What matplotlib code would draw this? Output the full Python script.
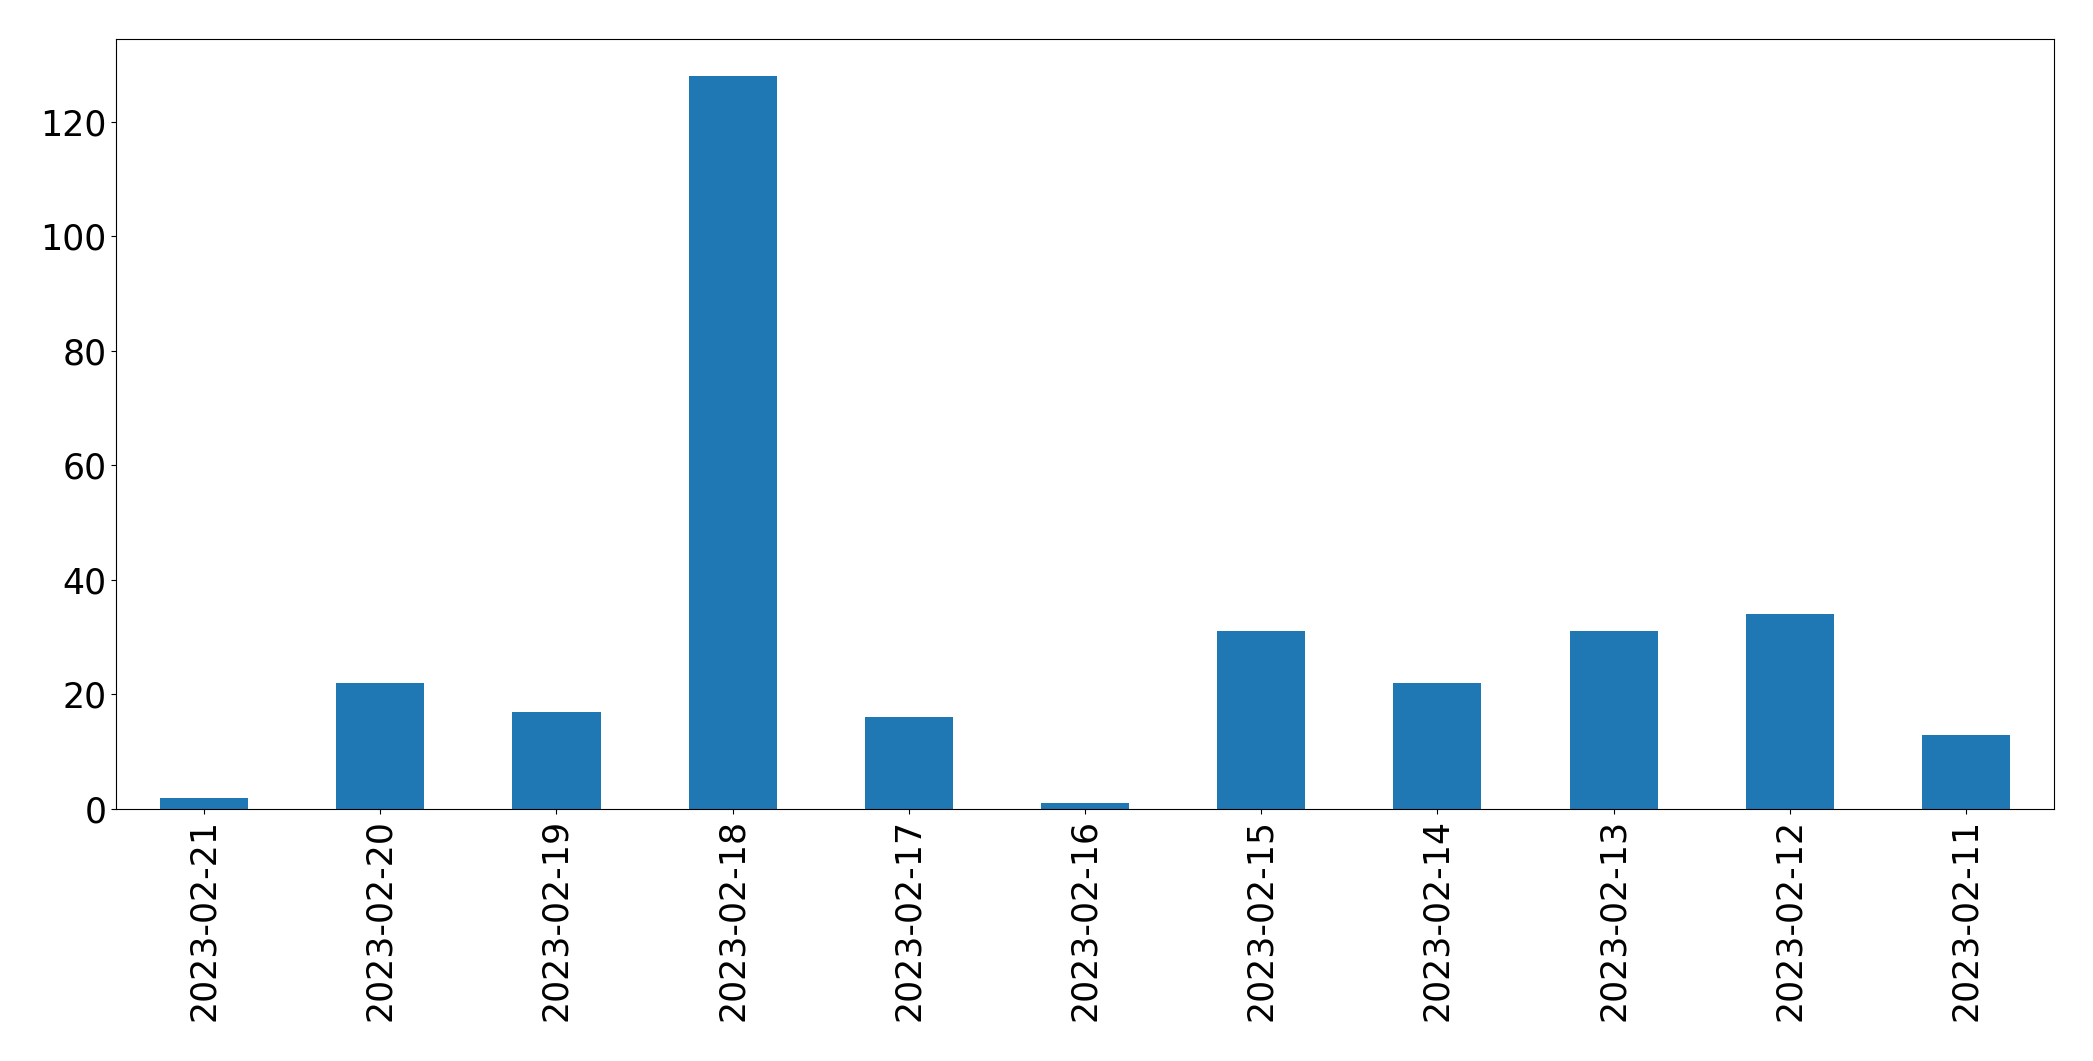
import matplotlib
matplotlib.use("Agg")
import matplotlib.pyplot as plt
import numpy as np

dates = ["2023-02-21", "2023-02-20", "2023-02-19", "2023-02-18", "2023-02-17",
         "2023-02-16", "2023-02-15", "2023-02-14", "2023-02-13", "2023-02-12",
         "2023-02-11"]
counts = [2, 22, 17, 128, 16, 1, 31, 22, 31, 34, 13]

fig = plt.figure(figsize=(20.93, 10.61), dpi=100)
ax = fig.add_axes([116/2093, 1 - 809/1061, (2054 - 116)/2093, (809 - 39)/1061])
x = np.arange(len(dates))
ax.bar(x, counts, width=0.5, color="#1f77b4")
ax.set_xlim(-0.5, len(dates) - 0.5)
ax.set_ylim(0, max(counts) * 1.05)
ax.set_xticks(x)
ax.set_xticklabels(dates, rotation=90)
ax.tick_params(axis="both", labelsize=25)
fig.savefig("out.png", dpi=100)
